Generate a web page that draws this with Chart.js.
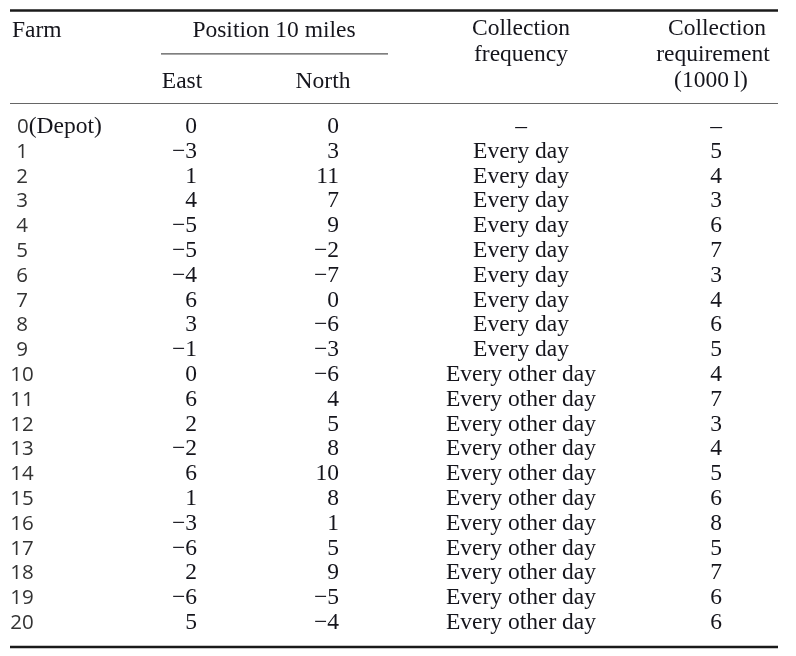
<!DOCTYPE html>
<html>
<head>
<meta charset="utf-8">
<script src="https://cdn.jsdelivr.net/npm/chart.js@4.4.1/dist/chart.umd.min.js"></script>
<style>
  html, body { margin: 0; padding: 0; background: #fff; }
  canvas { display: block; }
</style>
</head>
<body>
<canvas id="table" width="796" height="656"></canvas>
<script>
const farms = ["0", "1", "2", "3", "4", "5", "6", "7", "8", "9", "10",
  "11", "12", "13", "14", "15", "16", "17", "18", "19", "20"];
const east = [0, -3, 1, 4, -5, -5, -4, 6, 3, -1, 0, 6, 2, -2, 6, 1, -3, -6, 2, -6, 5];
const north = [0, 3, 11, 7, 9, -2, -7, 0, -6, -3, -6, 4, 5, 8, 10, 8, 1, 5, 9, -5, -4];
const frequency = ["\u2013",
  "Every day", "Every day", "Every day", "Every day", "Every day",
  "Every day", "Every day", "Every day", "Every day",
  "Every other day", "Every other day", "Every other day", "Every other day",
  "Every other day", "Every other day", "Every other day", "Every other day",
  "Every other day", "Every other day", "Every other day"];
const requirement = ["\u2013", 5, 4, 3, 6, 7, 3, 4, 6, 5, 4, 7, 3, 4, 5, 6, 8, 5, 7, 6, 6];

const SERIF = '23.5px "Liberation Serif", "Times New Roman", serif';
const SANS = '20.5px "Open Sans", "DejaVu Sans", sans-serif';
const INK = "#15151c";
const GREY = "#333333";

// column anchors on the x scale, header rows live at negative y
const cols = { farm: 22, east: 197, north: 339, freq: 521, req: 716 };

const fmt = (v) => (typeof v === "number" && v < 0 ? "\u2212" + Math.abs(v) : String(v));

const tablePlugin = {
  id: "tableText",
  afterDraw(chart) {
    const { ctx, scales: { x, y } } = chart;

    const rule = (from, to, row, width, color) => {
      ctx.save();
      ctx.strokeStyle = color;
      ctx.lineWidth = width;
      ctx.beginPath();
      ctx.moveTo(x.getPixelForValue(from), y.getPixelForValue(row));
      ctx.lineTo(x.getPixelForValue(to), y.getPixelForValue(row));
      ctx.stroke();
      ctx.restore();
    };

    const text = (str, col, row, align, font, color) => {
      ctx.save();
      ctx.font = font;
      ctx.fillStyle = color;
      ctx.textAlign = align;
      ctx.textBaseline = "alphabetic";
      ctx.fillText(str, x.getPixelForValue(col), y.getPixelForValue(row));
      ctx.restore();
    };

    // rules
    rule(10, 778, -4.94, 2.5, "#1a1a1a");
    rule(161, 388, -3.19, 1.2, "#555");
    rule(10, 778, -1.19, 1.2, "#666");
    rule(10, 778, 20.73, 2.5, "#1a1a1a");

    // header
    text("Farm", 12, -3.87, "left", SERIF, INK);
    text("Position 10 miles", 274, -3.87, "center", SERIF, INK);
    text("East", 182, -1.81, "center", SERIF, INK);
    text("North", 323, -1.81, "center", SERIF, INK);
    text("Collection", cols.freq, -3.95, "center", SERIF, INK);
    text("frequency", cols.freq, -2.9, "center", SERIF, INK);
    text("Collection", 717, -3.95, "center", SERIF, INK);
    text("requirement", 713, -2.9, "center", SERIF, INK);
    text("(1000\u2009l)", 711, -1.85, "center", SERIF, INK);

    // body rows
    farms.forEach((f, i) => {
      if (i === 0) {
        text(f, 17, i, "left", SANS, GREY);
        ctx.save();
        ctx.font = SANS;
        const w = ctx.measureText(f).width;
        ctx.restore();
        text("(Depot)", x.getValueForPixel(x.getPixelForValue(17) + w), i, "left", SERIF, INK);
      } else {
        text(f, cols.farm, i, "center", SANS, GREY);
      }
      text(fmt(east[i]), cols.east, i, "right", SERIF, INK);
      text(fmt(north[i]), cols.north, i, "right", SERIF, INK);
      text(frequency[i], cols.freq, i, "center", SERIF, INK);
      text(fmt(requirement[i]), cols.req, i, "center", SERIF, INK);
    });
  },
};

new Chart("table", {
  type: "scatter",
  data: { datasets: [] },
  options: {
    responsive: false,
    animation: false,
    events: [],
    layout: { padding: 0 },
    plugins: {
      legend: { display: false },
      tooltip: { enabled: false },
    },
    scales: {
      x: { type: "linear", min: 0, max: 796, display: false },
      y: { type: "linear", min: -5.363, max: 21.089, reverse: true, display: false },
    },
  },
  plugins: [tablePlugin],
});
</script>
</body>
</html>
